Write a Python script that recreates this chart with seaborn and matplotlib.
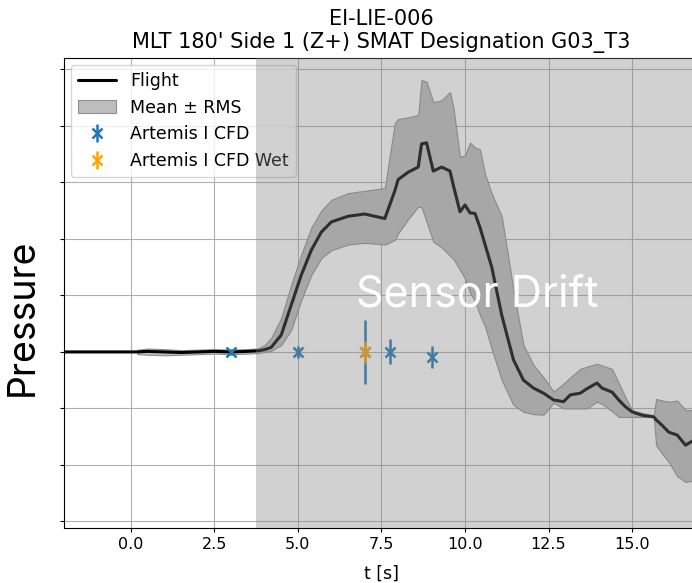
import numpy as np
import pandas as pd
import matplotlib
matplotlib.use("Agg")
import matplotlib.pyplot as plt
import seaborn as sns

# flight trace (mean) and RMS band
t = [-2.0, 0.0, 0.2, 0.5, 1.0, 1.5, 2.0, 2.5, 3.0, 3.5, 3.8, 4.0, 4.2, 4.5, 4.8,
     5.1, 5.4, 5.7, 6.0, 6.5, 7.0, 7.6, 7.9, 8.0, 8.3, 8.6, 8.7, 8.85, 9.05, 9.3,
     9.55, 9.65, 9.85, 10.0, 10.15, 10.3, 10.45, 10.6, 10.8, 11.1, 11.45, 11.75,
     12.05, 12.35, 12.65, 12.95, 13.15, 13.45, 13.65, 13.95, 14.1, 14.4, 14.6,
     14.8, 15.0, 15.3, 15.65, 15.72, 15.9, 16.1, 16.35, 16.6, 16.85, 17.0]
flight = [0.0, 0.0, 0.0, 0.01, 0.0, -0.01, 0.0, 0.01, 0.0, 0.01, 0.02, 0.04, 0.08,
          0.3, 0.83, 1.36, 1.8, 2.12, 2.3, 2.4, 2.44, 2.36, 2.85, 3.05, 3.18, 3.27,
          3.68, 3.7, 3.2, 3.27, 3.2, 2.95, 2.48, 2.6, 2.46, 2.45, 2.2, 1.9, 1.5,
          0.65, -0.14, -0.5, -0.64, -0.73, -0.85, -0.88, -0.76, -0.73, -0.65,
          -0.55, -0.64, -0.71, -0.85, -0.97, -1.06, -1.12, -1.15, -1.2, -1.3,
          -1.42, -1.47, -1.65, -1.56, -1.6]
rms_hi = [np.nan, np.nan, 0.04, 0.06, 0.05, 0.03, 0.04, 0.05, 0.04, 0.05, 0.06,
          0.12, 0.25, 0.6, 1.19, 1.72, 2.2, 2.5, 2.69, 2.81, 2.85, 2.9, 4.05, 4.12,
          4.15, 4.19, 4.81, 4.78, 4.42, 4.45, 4.6, 4.34, 3.45, 3.48, 3.7, 3.62,
          3.58, 3.15, 2.8, 2.4, 1.1, 0.12, -0.23, -0.45, -0.7, -0.56, -0.45, -0.3,
          -0.26, -0.21, -0.24, -0.3, -0.55, -0.8, -1.03, -1.08, -1.12, -0.83,
          -0.86, -0.88, -0.86, -1.03, -1.03, -1.03]
rms_lo = [np.nan, np.nan, -0.04, -0.05, -0.06, -0.05, -0.04, -0.03, -0.04, -0.03,
          -0.02, 0.0, 0.02, 0.12, 0.39, 0.92, 1.36, 1.66, 1.8, 1.9, 1.93, 1.9,
          1.98, 2.1, 2.35, 2.57, 2.56, 2.3, 1.95, 1.85, 1.7, 1.65, 1.45, 1.3, 1.05,
          0.9, 0.65, 0.45, 0.05, -0.5, -0.94, -1.06, -1.1, -1.11, -0.9, -1.0, -1.0,
          -1.0, -1.0, -0.88, -0.92, -1.05, -1.15, -1.15, -1.15, -1.15, -1.15,
          -1.65, -1.8, -1.95, -2.2, -2.3, -2.27, -2.27]

# CFD points
cfd_t = [3.0, 5.0, 7.0, 7.75, 9.0]
cfd_p = [0.0, 0.0, 0.0, 0.0, -0.09]
cfd_err = [0.05, 0.1, 0.57, 0.22, 0.2]
wet_t = [7.0]
wet_p = [0.0]
wet_err = [0.2]

drift_start = 3.75

df = pd.DataFrame({"t": t, "flight": flight})

sns.set_style("ticks")
fig = plt.figure(figsize=(6.92, 5.83), dpi=100)
ax = fig.add_axes([64 / 692, 1 - 528 / 583, 1 - 64 / 692 + 0.01, (528 - 58) / 583])

ax.grid(True, color="#b0b0b0", lw=0.8)
ax.set_axisbelow(True)

sns.lineplot(data=df, x="t", y="flight", color="black", lw=2.2, ax=ax,
             label="Flight", zorder=3)
ax.fill_between(t, rms_lo, rms_hi, facecolor="#bdbdbd", edgecolor="#909090",
                lw=0.8, label="Mean \u00b1 RMS", zorder=2)
ax.errorbar(cfd_t, cfd_p, yerr=cfd_err, fmt="x", color="#1f77b4", ms=7.5, mew=1.8,
            elinewidth=1.8, label="Artemis I CFD", zorder=4)
ax.errorbar(wet_t, wet_p, yerr=wet_err, fmt="x", color="orange", ms=7.5, mew=1.8,
            elinewidth=1.8, label="Artemis I CFD Wet", zorder=5)

leg = ax.legend(loc="upper left", fontsize=12.5, framealpha=0.8,
                borderaxespad=0.4, handlelength=2.2, labelcolor="black")
leg.set_zorder(5)

# sensor drift overlay covers everything behind it, legend included
ax.axvspan(drift_start, 17.5, color="gray", alpha=0.36, lw=0, zorder=10)
ax.text(10.36, 1.0, "Sensor Drift", color="white", fontsize=31,
        family=["Inter", "DejaVu Sans"], ha="center", va="center", zorder=11)

ax.set_xlim(-2, 17)
ax.set_ylim(-3.115, 5.2)
ax.set_xticks([0, 2.5, 5, 7.5, 10, 12.5, 15])
ax.set_yticks(range(-3, 6))
ax.set_yticklabels([])
ax.tick_params(labelsize=11.5, length=3, color="black", labelcolor="black")
for s in ax.spines.values():
    s.set_color("black")

ax.set_xlabel("t [s]", fontsize=12.5, labelpad=9, color="black")
ax.set_ylabel("Pressure", fontsize=27, family=["Inter", "DejaVu Sans"], color="black")
ax.yaxis.set_label_coords(-0.036, 0.449)
ax.set_title("EI-LIE-006\nMLT 180' Side 1 (Z+) SMAT Designation G03_T3",
             fontsize=15, pad=7, color="black")

fig.savefig("out.png", dpi=100)
